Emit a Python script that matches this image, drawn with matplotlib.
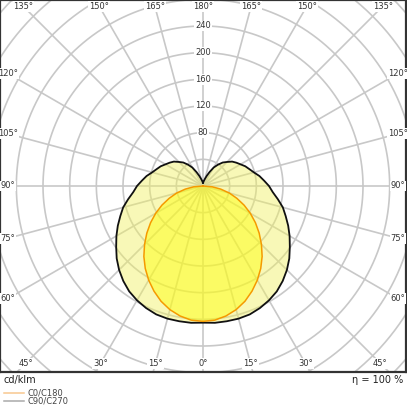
import numpy as np
import matplotlib
matplotlib.use("Agg")
import matplotlib.pyplot as plt
from matplotlib.lines import Line2D

# luminous intensity, cd/klm, every 5 deg from nadir (0) to zenith (180)
gamma = np.arange(0, 181, 5)
c0_c180 = [203, 202, 198, 192, 184, 174, 163, 151, 138, 124, 110, 96, 82,
           68, 54, 41, 27, 14, 0, 0, 0, 0, 0, 0, 0, 0, 0, 0, 0, 0, 0, 0,
           0, 0, 0, 0, 0]
c90_c270 = [205, 206, 206, 206, 205, 202, 198, 193, 186, 178, 169, 159, 150,
            141, 132, 124, 114, 105, 99, 92, 86, 79, 74, 70, 65, 61, 57, 51,
            46, 39, 32, 23, 16, 11, 8, 6, 5]

rings = np.arange(40, 441, 40)
ring_labels = [80, 120, 160, 200, 240]
rays = np.arange(0, 360, 15)
angle_labels = np.arange(-165, 181, 15)
efficiency = "η = 100 %"
unit = "cd/klm"
series_names = ["C0/C180", "C90/C270"]
legend_colors = ["#f8c890", "#aaaaaa"]


def to_xy(vals):
    # mirror the half plane to get both sides
    g = np.radians(np.concatenate([-gamma[::-1], gamma[1:]]))
    v = np.concatenate([np.array(vals)[::-1], np.array(vals)[1:]])
    return v * np.sin(g), -v * np.cos(g)


fig = plt.figure(figsize=(4.07, 4.07), dpi=100)
ax = fig.add_axes([0, 1 - 372 / 407, 406 / 407, 372 / 407])
ax.set_xlim(-304.5, 304.5)
ax.set_ylim(-279, 279)
ax.set_xticks([])
ax.set_yticks([])
for s in ax.spines.values():
    s.set_color("#333333")
    s.set_linewidth(1.6)

grid_kw = dict(color="#c8c8c8", lw=1.2, zorder=1)
t = np.linspace(0, 2 * np.pi, 400)
for r in rings:
    ax.plot(r * np.cos(t), r * np.sin(t), **grid_kw)
for a in np.radians(rays):
    ax.plot([0, 600 * np.sin(a)], [0, -600 * np.cos(a)], **grid_kw)

x90, y90 = to_xy(c90_c270)
x0, y0 = to_xy(c0_c180)
ax.fill(x90, y90, color="#f0f060", alpha=0.45, lw=0, zorder=2)
ax.fill(x0, y0, color="#ffff00", alpha=0.45, lw=0, zorder=3)
ax.plot(x90, y90, color="#111111", lw=1.3, zorder=4)
ax.plot(x0, y0, color="#f59a00", lw=1.1, zorder=5)

box = dict(facecolor="white", edgecolor="none", pad=0.6)
for r in ring_labels:
    ax.text(0, r, str(r), fontsize=6, color="#333333", ha="center",
            va="center", bbox=box, zorder=6)

half_w, half_top, half_bot = 292.5, 269.5, 266
for g in angle_labels:
    a = np.radians(g)
    dx, dy = np.sin(a), -np.cos(a)
    lim_y = half_top if dy > 0 else half_bot
    k = min(half_w / abs(dx) if abs(dx) > 1e-9 else 1e9,
            lim_y / abs(dy) if abs(dy) > 1e-9 else 1e9)
    ax.text(k * dx, k * dy, "%d°" % abs(g), fontsize=6, color="#333333",
            ha="center", va="center", bbox=box, zorder=6)

fig.text(4 / 407, 1 - 380 / 407, unit, fontsize=7, color="#222222",
         ha="left", va="center")
fig.text(403 / 407, 1 - 380 / 407, efficiency, fontsize=7, color="#222222",
         ha="right", va="center")

# legend drawn by hand to keep the tight spacing
for i, (name, col) in enumerate(zip(series_names, legend_colors)):
    yy = 1 - (392.7 + 8.3 * i) / 407
    fig.add_artist(Line2D([3.5 / 407, 23.5 / 407], [yy, yy], color=col,
                          lw=1.1, transform=fig.transFigure))
    fig.text(28 / 407, yy, name, fontsize=6, color="#444444",
             ha="left", va="center")

fig.savefig("out.png", dpi=100)
